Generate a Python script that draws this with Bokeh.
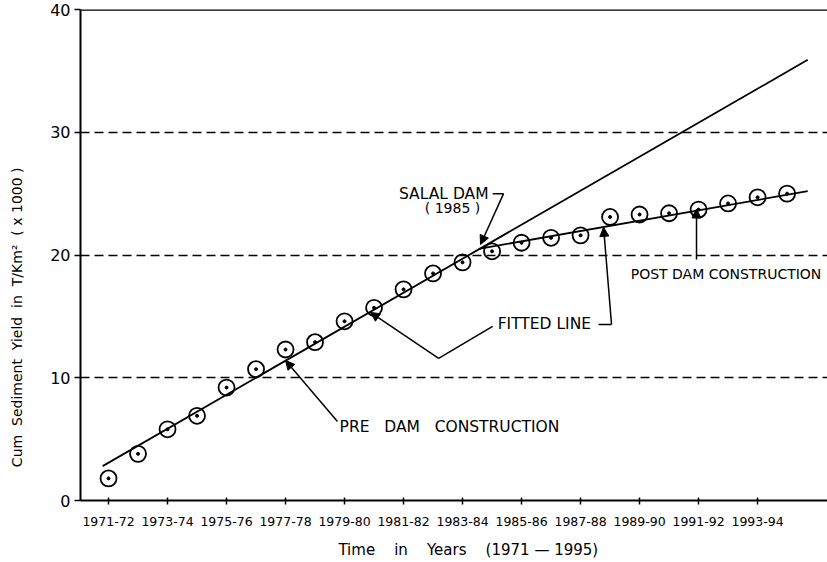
from bokeh.plotting import figure
from bokeh.models import (ColumnDataSource, Arrow, NormalHead, Label, Range1d,
                          FixedTicker, Span)
from bokeh.embed import file_html
from bokeh.resources import INLINE

FONT = "DejaVu Sans"
SP = "\u00a0"

# ---- data ----
years = ["1971-72", "1972-73", "1973-74", "1974-75", "1975-76", "1976-77",
         "1977-78", "1978-79", "1979-80", "1980-81", "1981-82", "1982-83",
         "1983-84", "1984-85", "1985-86", "1986-87", "1987-88", "1988-89",
         "1989-90", "1990-91", "1991-92", "1992-93", "1993-94", "1994-95"]
cum_yield = [1.8, 3.8, 5.8, 6.9, 9.2, 10.7, 12.3, 12.9, 14.6, 15.7, 17.2, 18.5,
             19.4, 20.3, 21.0, 21.4, 21.6, 23.1, 23.3, 23.4, 23.7, 24.2, 24.7, 25.0]
tick_labels = ["1971-72", "1973-74", "1975-76", "1977-78", "1979-80", "1981-82",
               "1983-84", "1985-86", "1987-88", "1989-90", "1991-92", "1993-94"]
y_ticks = [0, 10, 20, 30, 40]
# fitted lines (year index, value)
pre_fit_x = [-0.2, 23.7]
pre_fit_y = [2.8, 35.9]
post_fit_x = [12.55, 23.7]
post_fit_y = [20.5, 25.2]

x_idx = list(range(len(years)))
tick_idx = [years.index(t) for t in tick_labels]

p = figure(width=827, height=562, output_backend="svg", toolbar_location=None,
           x_range=Range1d(-0.95, 24.37), y_range=Range1d(0, 40),
           min_border_left=80, min_border_right=0, min_border_top=9,
           min_border_bottom=62)
p.outline_line_color = None
p.background_fill_color = "white"
p.border_fill_color = "white"

# grid
p.xgrid.visible = False
p.ygrid.ticker = FixedTicker(ticks=[10, 20, 30])
p.ygrid.grid_line_color = "black"
p.ygrid.grid_line_dash = "9 5"
p.ygrid.grid_line_width = 1.4

for ax in (p.xaxis[0], p.yaxis[0]):
    ax.minor_tick_line_color = None
    ax.axis_line_width = 2
    ax.axis_line_color = "black"
    ax.major_tick_line_color = "black"
    ax.major_tick_line_width = 1.5
    ax.major_label_text_font = FONT
    ax.major_label_text_color = "black"
    ax.axis_label_text_font = FONT
    ax.axis_label_text_color = "black"
    ax.axis_label_text_font_style = "normal"

xa = p.xaxis[0]
xa.ticker = FixedTicker(ticks=tick_idx)
xa.major_label_overrides = {i: t for i, t in zip(tick_idx, tick_labels)}
xa.major_tick_out = 4
xa.major_tick_in = 3
xa.major_label_text_font_size = "12.5px"
xa.major_label_standoff = 12
xa.axis_label = SP * 6 + SP.join(["Time", "", "", "", "in", "", "", "", "Years",
                                   "", "", "", "(1971", "\u2014", "1995)"])
xa.axis_label_text_font_size = "15px"
xa.axis_label_standoff = 12

ya = p.yaxis[0]
ya.ticker = FixedTicker(ticks=y_ticks)
ya.major_tick_out = 6
ya.major_tick_in = 0
ya.major_label_text_font_size = "16px"
ya.major_label_standoff = 4
# trailing spaces push the visible title toward the bottom, as in the reference
ya.axis_label = SP.join(["Cum", "", "Sediment", "", "Yield", "", "in", "",
                         "T/Km\u00b2", "", "(", "x", "1000", ")"]) + SP * 28
ya.axis_label_text_font_size = "14px"
ya.axis_label_standoff = 22

# top border
p.add_layout(Span(location=40, dimension="width", line_color="black", line_width=2.5))

# fitted lines
p.line(pre_fit_x, pre_fit_y, line_color="black", line_width=1.8)
p.line(post_fit_x, post_fit_y, line_color="black", line_width=1.8)

# observed points
src = ColumnDataSource(dict(x=x_idx, y=cum_yield))
p.scatter("x", "y", source=src, size=16, marker="circle", fill_alpha=0,
          line_color="black", line_width=1.8)
p.scatter("x", "y", source=src, size=3, marker="circle", color="black")


def arrow(x0, y0, x1, y1):
    p.add_layout(Arrow(end=NormalHead(size=9, fill_color="black", line_color="black"),
                       x_start=x0, y_start=y0, x_end=x1, y_end=y1,
                       line_color="black", line_width=1.5))


def lbl(x, y, t, align="left", size="15.5px"):
    p.add_layout(Label(x=x, y=y, text=t, text_font=FONT, text_font_size=size,
                       text_align=align, text_baseline="middle", text_color="black"))


# SALAL DAM
lbl(12.88, 25.0, "SALAL" + SP + "DAM", align="right")
lbl(11.66, 23.8, "(" + SP + "1985" + SP + ")", align="center", size="14px")
p.line([13.02, 13.39], [25.0, 25.0], line_color="black", line_width=1.5)
arrow(13.39, 25.0, 12.61, 20.86)

# PRE DAM CONSTRUCTION
lbl(7.83, 5.95, SP.join(["PRE", "", "", "DAM", "", "", "CONSTRUCTION"]))
arrow(7.76, 6.44, 6.0, 11.41)

# FITTED LINE
lbl(13.19, 14.34, "FITTED" + SP + "LINE")
p.line([13.02, 11.19], [14.18, 11.57], line_color="black", line_width=1.5)
arrow(11.19, 11.57, 8.88, 15.32)
p.line([16.61, 17.05], [14.34, 14.34], line_color="black", line_width=1.5)
arrow(17.05, 14.34, 16.78, 22.25)

# POST DAM CONSTRUCTION
lbl(17.7, 18.42, "POST" + SP + "DAM" + SP + "CONSTRUCTION", size="14px")
arrow(19.93, 19.64, 19.93, 23.75)

open("out.html", "w").write(file_html(p, INLINE))
